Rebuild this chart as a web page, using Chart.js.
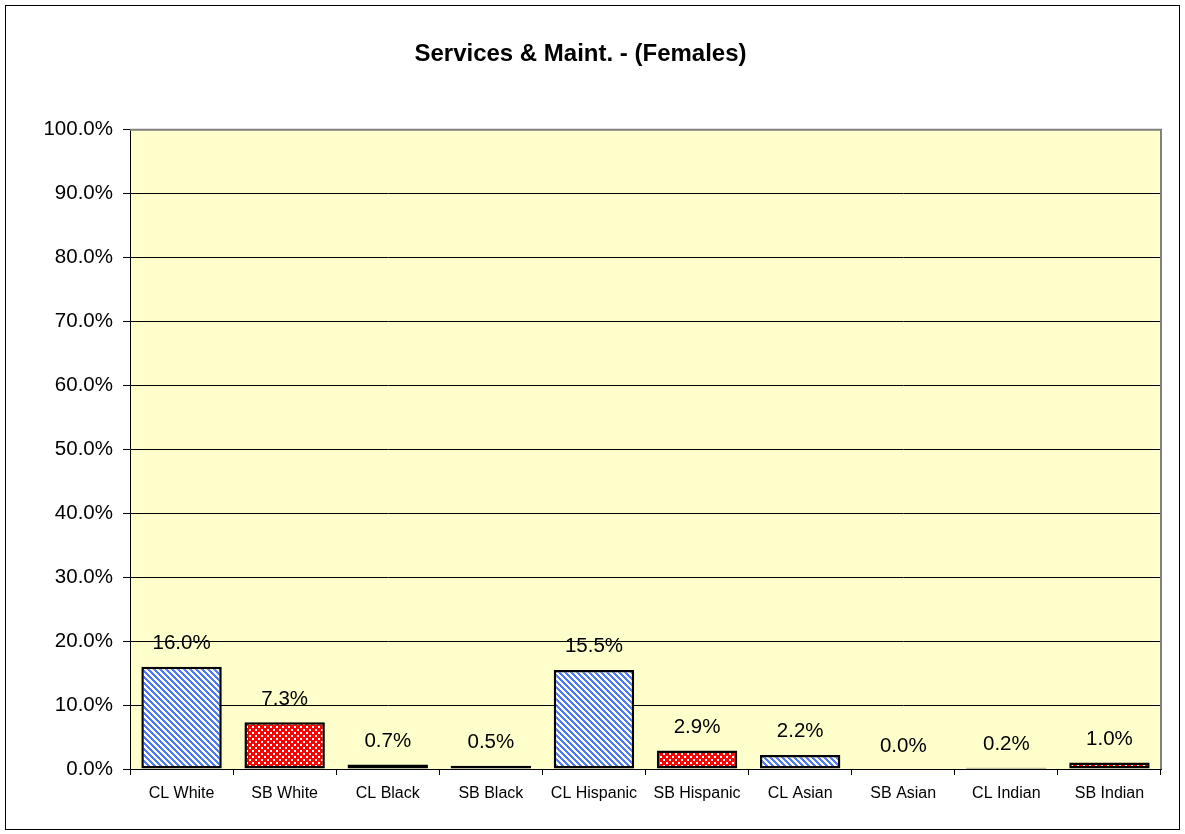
<!DOCTYPE html>
<html>
<head>
<meta charset="utf-8">
<script src="https://cdn.jsdelivr.net/npm/chart.js@4/dist/chart.umd.min.js"></script>
<style>
  body { margin: 0; background: #fff; }
  #wrap { position: relative; width: 1185px; height: 834px; }
  #frame { position: absolute; left: 5px; top: 5px; width: 1173px; height: 823px; border: 1px solid #000; pointer-events: none; }
</style>
</head>
<body>
<div id="wrap">
  <canvas id="chart" width="1185" height="834"></canvas>
  <div id="frame"></div>
</div>
<script>
// chart data
const categories = ['CL White', 'SB White', 'CL Black', 'SB Black', 'CL Hispanic', 'SB Hispanic', 'CL Asian', 'SB Asian', 'CL Indian', 'SB Indian'];
const shares = [16.0, 7.3, 0.7, 0.5, 15.5, 2.9, 2.2, 0.0, 0.2, 1.0];
const yTicks = [0, 10, 20, 30, 40, 50, 60, 70, 80, 90, 100];

const FONT = 'Liberation Sans, Arial, sans-serif';

// blue diagonal stripes, drawn pixel by pixel so they stay crisp
function stripePattern() {
    const c = document.createElement('canvas');
    c.width = 6; c.height = 6;
    const g = c.getContext('2d');
    for (let y = 0; y < 6; y++) {
        for (let x = 0; x < 6; x++) {
            g.fillStyle = ((x - y + 12) % 6) < 3 ? '#4f7cf2' : '#ffffff';
            g.fillRect(x, y, 1, 1);
        }
    }
    return g.createPattern(c, 'repeat');
}

// red check with white dots
function checkPattern() {
    const c = document.createElement('canvas');
    c.width = 6; c.height = 6;
    const g = c.getContext('2d');
    g.fillStyle = '#ff0000';
    g.fillRect(0, 0, 6, 6);
    g.fillStyle = '#ffffff';
    g.fillRect(0, 0, 2, 2);
    g.fillRect(3, 3, 2, 2);
    return g.createPattern(c, 'repeat');
}

const blue = stripePattern();
const red = checkPattern();
const fills = categories.map((c, i) => i % 2 === 0 ? blue : red);

// plot background and grey frame on top/right
const plotArea = {
    id: 'plotArea',
    beforeDraw(chart) {
        const { ctx, chartArea: a } = chart;
        ctx.save();
        ctx.fillStyle = '#ffffcc';
        ctx.fillRect(a.left, a.top, a.right - a.left, a.bottom - a.top);
        ctx.restore();
    },
    afterDraw(chart) {
        const { ctx, chartArea: a } = chart;
        ctx.save();
        ctx.strokeStyle = '#808080';
        ctx.lineWidth = 2;
        ctx.beginPath();
        ctx.moveTo(a.left, a.top);
        ctx.lineTo(a.right, a.top);
        ctx.lineTo(a.right, a.bottom);
        ctx.stroke();
        ctx.restore();
    }
};

// value labels above bars
const barLabels = {
    id: 'barLabels',
    afterDatasetsDraw(chart) {
        const { ctx } = chart;
        const meta = chart.getDatasetMeta(0);
        ctx.save();
        ctx.font = '20.5px ' + FONT;
        ctx.fillStyle = '#000';
        ctx.textAlign = 'center';
        ctx.textBaseline = 'alphabetic';
        meta.data.forEach((bar, i) => {
            ctx.fillText(shares[i].toFixed(1) + '%', bar.x, bar.y - 17.5);
        });
        ctx.restore();
    }
};

const ctx = document.getElementById('chart').getContext('2d');
new Chart(ctx, {
    type: 'bar',
    data: {
        labels: categories,
        datasets: [{
            data: shares,
            backgroundColor: fills,
            borderColor: '#000',
            borderWidth: 2.5,
            borderSkipped: false,
            categoryPercentage: 1,
            barPercentage: 0.78
        }]
    },
    options: {
        responsive: false,
        animation: false,
        layout: { padding: { left: 0, right: 24, top: 0, bottom: 0 } },
        plugins: {
            legend: { display: false },
            tooltip: { enabled: false },
            title: {
                display: true,
                text: 'Services & Maint. - (Females)',
                color: '#000',
                font: { family: FONT, size: 24, weight: 'bold' },
                padding: { top: 40, bottom: 61 }
            }
        },
        scales: {
            x: {
                offset: true,
                grid: { display: true, drawOnChartArea: false, offset: true, color: '#000', tickLength: 6 },
                border: { color: '#000', width: 1 },
                ticks: { color: '#000', font: { family: FONT, size: 16 }, padding: 9, maxRotation: 0 },
                afterFit(scale) { scale.height = 65; }
            },
            y: {
                min: 0,
                max: 100,
                afterBuildTicks(scale) { scale.ticks = yTicks.map(v => ({ value: v })); },
                grid: { color: '#000', tickLength: 7 },
                border: { color: '#000', width: 1 },
                ticks: {
                    color: '#000',
                    font: { family: FONT, size: 20.5 },
                    padding: 10,
                    callback: v => v.toFixed(1) + '%'
                },
                afterFit(scale) { scale.width = 130; }
            }
        }
    },
    plugins: [plotArea, barLabels]
});
</script>
</body>
</html>
